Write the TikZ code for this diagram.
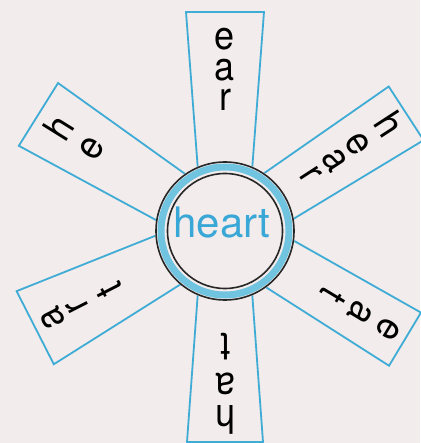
\documentclass[tikz,border=0pt]{standalone}
\usepackage{fontspec}
\setmainfont{TeX Gyre Heros}
\usepackage{tikz}
\usetikzlibrary{positioning}

\definecolor{paper}{RGB}{243,236,236}
\definecolor{raycol}{RGB}{62,172,212}
\definecolor{ringcol}{RGB}{112,196,224}
\definecolor{wordcol}{RGB}{58,168,214}

\tikzset{
  ray/.style={raycol, line width=1.8pt, fill=paper},
  letter/.style={inner sep=0pt, anchor=base, font=\fontsize{36}{36}\selectfont}
}

\begin{document}
\begin{tikzpicture}[x=1pt, y=1pt]
  % Paper background
  \fill[paper] (-225,-212) rectangle (195,231);
  \useasboundingbox (-225,-212) rectangle (195,231);
  \coordinate (O) at (0,0);

  % Draw the six rays, inner ends hidden under the ring
  \draw[ray, rotate=90]  (60,-27) -- (219,-39) -- (219,39) -- (60,27) -- cycle;
  \draw[ray, rotate=33]  (60,-27) -- (216,-32) -- (216,32) -- (60,27) -- cycle;
  \draw[ray, rotate=148] (60,-27) -- (220,-37) -- (220,37) -- (60,27) -- cycle;
  \draw[ray, rotate=207] (60,-27) -- (213,-41) -- (213,41) -- (60,27) -- cycle;
  \draw[ray, rotate=329] (60,-27) -- (210,-31) -- (210,31) -- (60,27) -- cycle;
  \draw[ray, rotate=270] (60,-27) -- (211,-38) -- (211,38) -- (60,27) -- cycle;

  % Top ray: ear
  \node[letter, rotate=0, yscale=1.1] (ear-e) at (90:181) {e};
  \node[letter, rotate=0, yscale=1.1] (ear-a) at (90:150) {a};
  \node[letter, rotate=0, yscale=1.1] (ear-r) at (90:120) {r};

  % Upper right ray: hear
  \node[letter, rotate=-57, yscale=1.1] (hear-h) at (33:182) {h};
  \node[letter, rotate=-57, yscale=1.1] (hear-e) at (33:148) {e};
  \node[letter, rotate=-57, yscale=1.1] (hear-a) at (33:120) {a};
  \node[letter, rotate=-57, yscale=1.1] (hear-r) at (33:92) {r};

  % Upper left ray: he
  \node[letter, rotate=58, yscale=1.1] (he-h) at (148:182) {h};
  \node[letter, rotate=58, yscale=1.1] (he-e) at (148:146) {e};

  % Lower left ray: art
  \node[letter, rotate=117, yscale=1.1] (art-a) at (207:183) {a};
  \node[letter, rotate=117, yscale=1.1] (art-r) at (207:155) {r};
  \node[letter, rotate=117, yscale=1.1] (art-t) at (207:117) {t};

  % Lower right ray: eat
  \node[letter, rotate=239, yscale=1.1] (eat-e) at (329:180) {e};
  \node[letter, rotate=239, yscale=1.1] (eat-a) at (329:147) {a};
  \node[letter, rotate=239, yscale=1.1] (eat-t) at (329:113) {t};

  % Bottom ray: hat
  \node[letter, rotate=180, yscale=1.1] (hat-h) at (270:174) {h};
  \node[letter, rotate=180, yscale=1.1] (hat-a) at (270:142) {a};
  \node[letter, rotate=180, yscale=1.1] (hat-t) at (270:103) {t};

  % Centre ring
  \fill[paper] (O) circle (70);
  \draw[ringcol, line width=7pt] (O) circle (64);
  \draw[black!85, line width=1.6pt] (O) circle (69);
  \draw[black!85, line width=1.6pt] (O) circle (57.5);
  \node[wordcol, inner sep=0pt, anchor=base, font=\fontsize{42}{42}\selectfont] (heart) at (-3,-7) {heart};

\end{tikzpicture}
\end{document}
